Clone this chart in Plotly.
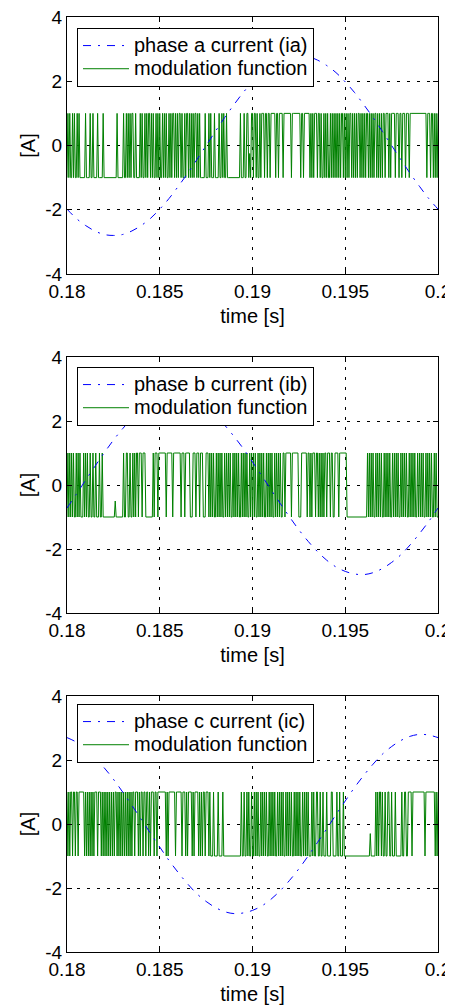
import plotly.graph_objects as go

# ---------------- data ----------------
t_cur = [0.1800, 0.1805, 0.1810, 0.1815, 0.1820, 0.1825, 0.1830, 0.1835, 0.1840, 0.1845,
         0.1850, 0.1855, 0.1860, 0.1865, 0.1870, 0.1875, 0.1880, 0.1885, 0.1890, 0.1895,
         0.1900, 0.1905, 0.1910, 0.1915, 0.1920, 0.1925, 0.1930, 0.1935, 0.1940, 0.1945,
         0.1950, 0.1955, 0.1960, 0.1965, 0.1970, 0.1975, 0.1980, 0.1985, 0.1990, 0.1995, 0.2000]

ia = [-1.98, -2.27, -2.49, -2.66, -2.77, -2.80, -2.77, -2.66, -2.49, -2.27, -1.98, -1.65, -1.27,
      -0.87, -0.44, 0.00, 0.44, 0.87, 1.27, 1.65, 1.98, 2.27, 2.49, 2.66, 2.77, 2.80, 2.77, 2.66,
      2.49, 2.27, 1.98, 1.65, 1.27, 0.87, 0.44, 0.00, -0.44, -0.87, -1.27, -1.65, -1.98]

ib = [-0.72, -0.29, 0.15, 0.58, 1.00, 1.40, 1.76, 2.08, 2.35, 2.56, 2.70, 2.78, 2.80, 2.74, 2.61,
      2.42, 2.18, 1.87, 1.52, 1.14, 0.72, 0.29, -0.15, -0.58, -1.00, -1.40, -1.76, -2.08, -2.35,
      -2.56, -2.70, -2.78, -2.80, -2.74, -2.61, -2.42, -2.18, -1.87, -1.52, -1.14, -0.72]

ic = [2.70, 2.56, 2.35, 2.08, 1.76, 1.40, 1.00, 0.58, 0.15, -0.29, -0.72, -1.14, -1.52, -1.87,
      -2.18, -2.42, -2.61, -2.74, -2.80, -2.78, -2.70, -2.56, -2.35, -2.08, -1.76, -1.40, -1.00,
      -0.58, -0.15, 0.29, 0.72, 1.14, 1.52, 1.87, 2.18, 2.42, 2.61, 2.74, 2.80, 2.78, 2.70]

# modulation functions: sampled every 50 us from 0.18 s, level toggles at listed sample indices
mod_t0 = 0.18
mod_dt = 0.00005
mod_n = 401

mod_a_start = -1
mod_a_toggles = [1, 2, 3, 4, 6, 7, 8, 9, 11, 12, 13, 14,
                 20, 21, 25, 26, 28, 29, 33, 34, 39, 40,
                 54, 55,
                 61, 62, 64, 65, 66, 67, 68, 69, 70, 72, 74, 75,
                 79, 80, 81, 82, 84, 85, 86, 87, 88, 90, 91, 92, 93, 94, 96, 97, 98, 99, 100, 101,
                 103, 104, 105, 106, 107, 108, 110, 111, 112, 113, 114, 116, 117, 118, 119, 120,
                 121, 123, 124, 125,
                 127, 128, 129, 131, 132, 133, 134, 135, 136, 137, 138, 140, 141, 142, 143, 144,
                 149, 150, 153, 154, 155, 156, 159, 160, 164, 165, 167, 168, 169, 170, 172, 173,
                 187, 188, 191, 192, 194, 196, 199, 201,
                 202, 204, 205, 206, 208, 209, 210, 213, 214, 216, 217, 219, 220,
                 225, 226, 228, 229, 233, 234, 242, 243, 252, 253, 255, 256, 262, 263, 264, 265,
                 266, 267, 270, 271,
                 273, 274, 275, 277, 278, 279, 280, 281, 282, 284, 285, 286, 287, 288, 289, 290,
                 291, 292, 293, 294, 295, 296, 298, 299, 300, 301, 302, 303, 304, 305, 307, 308,
                 309, 310, 311, 312, 313, 314, 316, 317, 318, 319, 320, 321, 322, 323, 325, 326,
                 327, 328, 329, 330, 331, 332, 334, 335, 336, 337, 338, 339, 340, 341, 343, 344,
                 347, 348, 349, 350,
                 354, 355, 358, 359, 361, 362, 365, 366, 369, 370,
                 388, 389, 392, 393, 395, 396, 397, 398, 399, 400]
mod_a_spike_idx = [197]
mod_a_spike_val = [-0.25]

mod_b_start = -1
mod_b_toggles = [1, 2, 3, 4, 5, 6, 7, 8, 10, 11, 12, 13, 14, 15, 18, 19, 20, 21, 22, 23,
                 25, 26, 28, 29, 31, 32, 35, 36, 38, 39,
                 61, 62, 64, 66, 68, 69, 71, 72, 73, 74, 75, 77, 78, 81, 82, 85, 93, 94, 95, 98,
                 99, 107, 108, 114, 115, 123, 124, 127, 128, 133, 136, 139, 140, 143, 144, 147,
                 150, 153,
                 154, 155, 156, 157, 158, 159, 161, 162, 163, 164, 165, 166, 167, 168, 170, 171,
                 172, 173, 174, 175, 176, 177, 179, 180, 181, 182, 183, 184, 185, 186, 188, 189,
                 190, 191, 192, 193, 194, 195, 197, 198, 199, 200, 201, 202, 203, 204, 206, 207,
                 208, 209, 210, 211, 212, 213, 215, 216, 217, 218, 219, 220, 221, 222, 224, 225,
                 226, 227, 228, 229, 230, 231, 233,
                 235, 236, 242, 243, 250, 253, 259, 260, 262, 263, 264, 265, 268, 269, 271, 272,
                 273, 274, 275, 276, 277, 278, 280, 281, 284, 285, 287, 289, 293, 294,
                 302,
                 324, 325, 326, 327, 328, 329, 330, 331, 333, 334, 335, 336, 337, 338, 339, 340,
                 342, 343, 344, 345, 346, 347, 348, 349, 351, 352, 353, 354, 355, 356, 357, 358,
                 360, 361, 362, 363, 364, 365, 366, 367, 369, 370, 371, 372, 373, 374, 375, 376,
                 378, 379, 380, 381, 382, 383, 384, 385, 387, 388, 389, 390, 391, 392, 393, 394,
                 396, 397, 398, 399]
mod_b_spike_idx = [52]
mod_b_spike_val = [-0.5]

mod_c_start = 1
mod_c_toggles = [1, 2, 3, 4, 6, 7, 9, 10, 12, 13, 19, 20, 21, 22, 23, 24, 25, 26, 27, 28, 29, 30,
                 33, 34, 37, 38, 39, 40, 41, 42, 43, 44, 45, 46, 47, 48, 49, 50, 51, 52, 54, 55,
                 56, 57, 58, 59, 60, 61, 62, 63, 64, 65, 66, 67, 68, 69, 70, 71, 73, 74,
                 77, 78, 79, 80, 82, 83, 85, 86, 88, 89, 90, 91, 94, 95, 97, 98,
                 107, 108, 109, 110, 117, 118, 124, 125, 128, 129, 130, 131, 135, 136, 137, 138,
                 142, 143, 144, 145, 146, 147, 149, 150, 153, 154, 155,
                 158, 159, 163, 164, 168, 169,
                 188, 189, 191, 192, 194, 195, 196, 197, 199, 200,
                 202, 203, 204, 205, 206, 207, 209, 210, 211, 212, 213, 214, 215, 216, 218, 219,
                 220, 221, 222, 223, 224, 225, 227, 228, 229, 230, 231, 232, 233, 234, 236, 237,
                 238, 239, 240, 241, 242, 243, 245, 246, 247, 248, 249, 250, 251, 252, 254, 255,
                 256, 257, 258, 259, 260, 261,
                 264, 265, 266, 267, 269, 271, 273, 274, 276, 277, 280, 281, 285, 287, 291, 292,
                 294, 295, 298, 299,
                 333, 334, 335, 336, 337, 339, 340, 341, 343, 344, 346, 348, 350, 351, 354, 355,
                 361, 362, 364, 366, 368,
                 372, 373, 386, 387, 397, 398, 399, 400]
mod_c_spike_idx = [327]
mod_c_spike_val = [-0.3]

phase_names = ["phase a current (ia)", "phase b current (ib)", "phase c current (ic)"]
mod_name = "modulation function"
x_ticks = [0.18, 0.185, 0.19, 0.195, 0.2]
x_ticktext = ["0.18", "0.185", "0.19", "0.195", "0.2"]
y_ticks = [-4, -2, 0, 2, 4]
y_ticktext = ["-4", "-2", "0", "2", "4"]


def decode(start, toggles, spike_idx, spike_val):
    tog = set(toggles)
    level = start
    xs, ys = [], []
    for n in range(mod_n):
        if n in tog:
            level = -level
        xs.append(mod_t0 + n * mod_dt)
        ys.append(level)
    for k, v in zip(spike_idx, spike_val):
        ys[k] = v
    return xs, ys


mods = [decode(mod_a_start, mod_a_toggles, mod_a_spike_idx, mod_a_spike_val),
        decode(mod_b_start, mod_b_toggles, mod_b_spike_idx, mod_b_spike_val),
        decode(mod_c_start, mod_c_toggles, mod_c_spike_idx, mod_c_spike_val)]
currents = [ia, ib, ic]

# ---------------- layout geometry ----------------
# the page body has an 8px margin, so the figure sits 8px right/down in the window
OFF = 8
W, H = 453, 1008
plot_left, plot_right = 67, 438           # window pixels
panels_px = [(17, 274), (357, 613), (696, 952)]  # window pixel rows of each plot area
legend_top_px = [28, 367, 704]

ml = plot_left - OFF
mr = W - (plot_right - OFF)
mt = panels_px[0][0] - OFF
mb = H - (panels_px[2][1] - OFF)
pw = W - ml - mr
ph = H - mt - mb

FONT = "Liberation Sans, Arial, Helvetica, sans-serif"
FS = 20
TICK_FS = 19
LEG_FS = 15.5  # controls legend row spacing; names are rendered at FS


def big(s):
    return f'<span style="font-size:{FS}px">{s}</span>'


fig = go.Figure()
legend_keys = ["legend", "legend2", "legend3"]
for i in range(3):
    xa = "x" if i == 0 else f"x{i+1}"
    ya = "y" if i == 0 else f"y{i+1}"
    mx, my = mods[i]
    fig.add_trace(go.Scatter(x=mx, y=my, mode="lines", name=big(mod_name),
                             line=dict(color="#008000", width=1),
                             xaxis=xa, yaxis=ya, legend=legend_keys[i], legendrank=2))
    fig.add_trace(go.Scatter(x=t_cur, y=currents[i], mode="lines", name=big(phase_names[i]),
                             line=dict(color="#0000FF", width=1, dash="8px,7px,2px,7px"),
                             line_shape="spline",
                             xaxis=xa, yaxis=ya, legend=legend_keys[i], legendrank=1))

layout = dict(
    width=W, height=H,
    margin=dict(l=ml, r=mr, t=mt, b=mb, autoexpand=False),
    paper_bgcolor="white", plot_bgcolor="white",
    font=dict(family=FONT, size=FS, color="black"),
    template="none",
    showlegend=True,
)

for i in range(3):
    top, bot = panels_px[i]
    top -= OFF
    bot -= OFF
    d0 = 1 - (bot - mt) / ph
    d1 = 1 - (top - mt) / ph
    xk = "xaxis" if i == 0 else f"xaxis{i+1}"
    yk = "yaxis" if i == 0 else f"yaxis{i+1}"
    ya = "y" if i == 0 else f"y{i+1}"
    xa = "x" if i == 0 else f"x{i+1}"
    layout[xk] = dict(
        domain=[0, 1], anchor=ya, range=[0.18, 0.2],
        tickvals=x_ticks, ticktext=x_ticktext,
        ticks="inside", ticklen=5, tickcolor="black",
        showline=True, linecolor="black", linewidth=1, mirror="ticks",
        showgrid=True, gridcolor="black", gridwidth=1, griddash="3px,7px",
        zeroline=False, automargin=False, ticklabeloverflow="allow",
        title=dict(text="time [s]", standoff=8, font=dict(size=FS)),
        tickfont=dict(size=TICK_FS),
    )
    layout[yk] = dict(
        domain=[d0, d1], anchor=xa, range=[-4, 4],
        tickvals=y_ticks, ticktext=y_ticktext,
        ticks="inside", ticklen=5, tickcolor="black",
        showline=True, linecolor="black", linewidth=1, mirror="ticks",
        showgrid=True, gridcolor="black", gridwidth=1, griddash="3px,7px",
        zeroline=False, automargin=False, ticklabeloverflow="allow",
        title=dict(text="[A]", standoff=4, font=dict(size=FS)),
        tickfont=dict(size=TICK_FS),
    )
    layout[legend_keys[i]] = dict(
        x=(plot_left + 10 - plot_left) / pw, xanchor="left",
        y=1 - (legend_top_px[i] - OFF - mt) / ph, yanchor="top",
        bgcolor="white", bordercolor="black", borderwidth=1,
        font=dict(family=FONT, size=LEG_FS, color="black"),
        itemwidth=46, tracegroupgap=0,
    )

fig.update_layout(**layout)
fig.write_html("out.html")
